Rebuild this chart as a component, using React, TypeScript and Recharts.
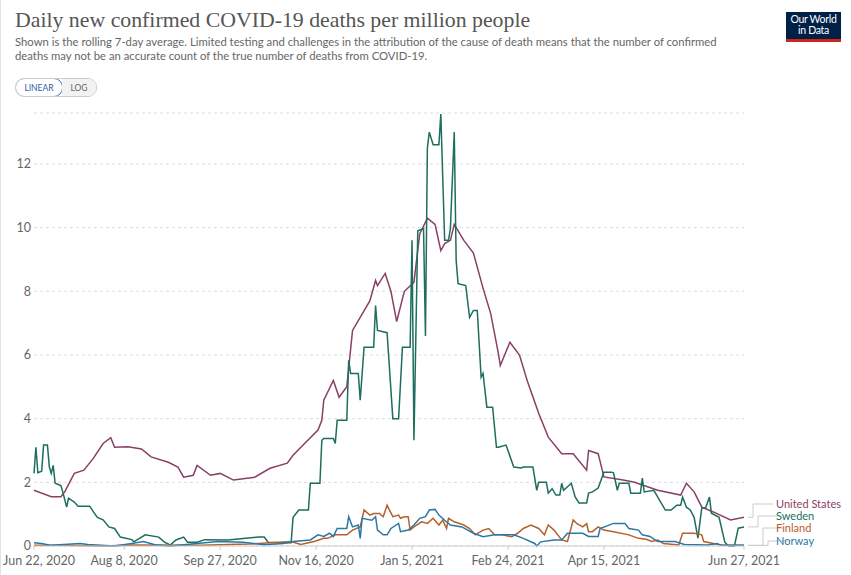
import { LineChart, Line, XAxis, YAxis, CartesianGrid, LabelList } from 'recharts';

document.body.style.margin = '0';

// days since Jun 22, 2020
const tickDays = [0, 47, 97, 147, 197, 247, 297, 370];
const tickLabels = ['Jun 22, 2020', 'Aug 8, 2020', 'Sep 27, 2020', 'Nov 16, 2020', 'Jan 5, 2021', 'Feb 24, 2021', 'Apr 15, 2021', 'Jun 27, 2021'];
const yTicks = [0, 2, 4, 6, 8, 10, 12];

const usDays = [0, 9, 14, 16, 21, 26, 31, 36, 40, 42, 49, 56, 61, 70, 75, 78, 83, 85, 92, 97, 104, 115, 123, 132, 135, 141, 148, 150, 151, 156, 159, 163, 166, 170, 175, 178, 179, 183, 186, 189, 193, 198, 201, 205, 209, 212, 214, 217, 219, 224, 229, 234, 238, 242, 243, 248, 253, 257, 263, 268, 275, 281, 288, 289, 294, 297, 307, 313, 325, 337, 340, 344, 348, 354, 363, 370];
const usDeaths = [1.75, 1.55, 1.55, 1.7, 2.28, 2.38, 2.76, 3.22, 3.4, 3.1, 3.12, 3.05, 2.8, 2.63, 2.48, 2.16, 2.22, 2.53, 2.22, 2.28, 2.07, 2.16, 2.44, 2.6, 2.85, 3.22, 3.64, 3.95, 4.58, 5.2, 4.67, 5.0, 6.77, 7.18, 7.7, 8.34, 8.18, 8.56, 8.0, 7.05, 8.0, 8.28, 9.8, 10.3, 10.1, 9.28, 9.5, 9.6, 10.1, 9.6, 9.2, 8.1, 7.3, 6.05, 5.67, 6.4, 6.0, 5.2, 4.17, 3.42, 2.9, 2.9, 2.38, 3.0, 2.9, 2.17, 2.07, 2.0, 1.75, 1.6, 1.97, 1.7, 1.22, 1.07, 0.82, 0.9];

const swedenDays = [0, 1, 2, 4, 5, 7, 8, 9, 10, 11, 14, 15, 17, 18, 21, 23, 29, 31, 33, 36, 39, 42, 45, 51, 52, 58, 65, 68, 71, 74, 78, 80, 85, 89, 101, 117, 120, 122, 128, 134, 135, 138, 143, 144, 149, 150, 151, 156, 157, 158, 163, 164, 165, 169, 170, 172, 177, 178, 179, 184, 187, 190, 192, 196, 197, 198, 200, 203, 204, 205, 206, 208, 211, 212, 214, 216, 217, 219, 220, 221, 225, 227, 229, 231, 233, 234, 236, 239, 241, 242, 246, 250, 254, 255, 260, 262, 263, 267, 268, 270, 272, 274, 275, 276, 280, 282, 284, 288, 289, 291, 294, 297, 301, 302, 304, 305, 310, 311, 316, 317, 318, 323, 325, 329, 332, 335, 337, 338, 340, 342, 344, 346, 348, 350, 352, 353, 357, 360, 362, 365, 367, 370];
const swedenDeaths = [2.28, 3.1, 2.3, 2.35, 3.17, 3.17, 2.48, 2.28, 2.53, 1.97, 1.9, 1.7, 1.22, 1.5, 1.38, 1.25, 1.25, 1.07, 0.9, 0.82, 0.6, 0.55, 0.28, 0.2, 0.13, 0.35, 0.28, 0.12, 0.03, 0.19, 0.28, 0.12, 0.12, 0.2, 0.19, 0.28, 0.28, 0.12, 0.1, 0.1, 0.9, 1.13, 1.13, 1.97, 1.97, 3.32, 3.38, 3.38, 3.22, 3.95, 3.95, 5.83, 5.42, 5.42, 4.58, 6.24, 6.24, 7.55, 6.77, 6.7, 4.0, 4.0, 6.24, 6.24, 9.6, 3.32, 9.9, 9.97, 6.6, 12.5, 13.0, 12.6, 12.6, 13.57, 9.6, 9.6, 9.97, 13.0, 8.97, 8.24, 8.18, 7.18, 7.4, 7.4, 5.3, 5.42, 4.36, 4.36, 3.1, 3.1, 3.17, 2.48, 2.45, 2.48, 2.48, 1.75, 2.0, 2.0, 1.66, 1.8, 1.6, 1.6, 1.97, 1.75, 1.97, 1.54, 1.35, 1.35, 1.66, 1.7, 1.82, 2.32, 2.32, 2.3, 1.75, 1.97, 1.97, 1.66, 1.66, 2.13, 1.7, 1.75, 1.54, 1.13, 1.13, 1.28, 1.28, 1.54, 1.22, 1.13, 0.9, 0.25, 1.2, 1.2, 1.54, 1.03, 0.9, 0.12, 0, 0, 0.56, 0.6];

const finlandDays = [0, 14, 36, 51, 87, 112, 134, 139, 146, 151, 153, 157, 163, 166, 170, 172, 175, 177, 180, 182, 184, 187, 190, 191, 193, 195, 196, 198, 202, 205, 208, 211, 213, 215, 216, 219, 224, 227, 230, 234, 237, 240, 244, 249, 252, 255, 259, 263, 266, 268, 271, 275, 278, 281, 283, 286, 288, 289, 291, 294, 297, 302, 310, 315, 319, 322, 325, 328, 336, 338, 344, 348, 349, 354, 358, 370];
const finlandDeaths = [0.02, 0.02, 0, 0.03, 0.02, 0.06, 0.14, 0.05, 0.14, 0.24, 0.24, 0.35, 0.35, 0.5, 0.6, 1.13, 0.97, 1.02, 1.02, 0.92, 1.28, 0.92, 0.97, 0.87, 0.92, 0.92, 0.5, 0.6, 0.76, 0.71, 0.87, 0.66, 0.81, 0.55, 0.87, 0.76, 0.66, 0.55, 0.35, 0.5, 0.55, 0.35, 0.35, 0.29, 0.4, 0.55, 0.66, 0.55, 0.35, 0.66, 0.5, 0.19, 0.14, 0.82, 0.7, 0.6, 0.7, 0.45, 0.45, 0.6, 0.5, 0.45, 0.35, 0.24, 0.21, 0.14, 0.19, 0.08, 0.03, 0.4, 0.4, 0.35, 0.14, 0.08, 0.03, 0.02];

const norwayDays = [0, 4, 9, 24, 28, 42, 51, 57, 63, 71, 96, 109, 120, 130, 135, 144, 148, 151, 154, 156, 158, 163, 164, 166, 169, 170, 171, 176, 178, 179, 182, 184, 186, 190, 191, 195, 198, 201, 204, 206, 209, 211, 214, 217, 223, 229, 234, 240, 250, 255, 261, 262, 264, 271, 275, 278, 286, 289, 294, 295, 302, 308, 310, 315, 317, 321, 325, 334, 339, 351, 356, 358, 370];
const norwayDeaths = [0.1, 0.08, 0.02, 0.08, 0.05, 0, 0.08, 0.14, 0.04, 0, 0.14, 0.12, 0.04, 0.08, 0.14, 0.19, 0.35, 0.3, 0.4, 0.3, 0.55, 0.55, 0.92, 0.6, 0.66, 0.24, 0.87, 0.81, 0.92, 0.5, 0.35, 0.35, 0.55, 0.71, 0.45, 0.5, 0.66, 0.87, 0.92, 1.13, 1.15, 0.97, 0.81, 0.66, 0.6, 0.4, 0.29, 0.35, 0.35, 0.24, 0.08, 0, 0.13, 0.19, 0.19, 0.4, 0.4, 0.3, 0.3, 0.55, 0.71, 0.71, 0.55, 0.5, 0.35, 0.3, 0.14, 0.14, 0.05, 0.03, 0.08, 0.02, 0.02];

const toRows = (days: number[], vals: number[]) => days.map((d, i) => ({ day: d, value: vals[i] }));

const series = [
  { name: 'United States', color: '#8a3f66', data: toRows(usDays, usDeaths), elbowX: 752, labelY: 504 },
  { name: 'Sweden', color: '#1d6e5c', data: toRows(swedenDays, swedenDeaths), elbowX: 757, labelY: 516 },
  { name: 'Finland', color: '#b5602d', data: toRows(finlandDays, finlandDeaths), elbowX: 762, labelY: 528 },
  { name: 'Norway', color: '#2a78a6', data: toRows(norwayDays, norwayDeaths), elbowX: 767, labelY: 541 },
];

const font = 'Lato, "Noto Sans", sans-serif';

function EndLabel(props: any, s: (typeof series)[number]) {
  const { x, y, index } = props;
  if (index !== s.data.length - 1) return null;
  return (
    <g>
      <path
        d={`M${x + 4},${y} H${s.elbowX} V${s.labelY} H${s.elbowX + 20}`}
        fill="none"
        stroke="#ccc"
        strokeWidth={1}
      />
      <text x={775} y={s.labelY} dy={4} fontSize={11} fill={s.color} fontFamily={font}>
        {s.name}
      </text>
    </g>
  );
}

function XTick(props: any) {
  const { x, y, payload, index } = props;
  const label = tickLabels[tickDays.indexOf(payload.value)];
  const cx = index === 0 ? Math.max(x, 38) : x;
  return (
    <text x={cx} y={y} dy={13} textAnchor="middle" fontSize={12.5} fill="#666" fontFamily={font}>
      {label}
    </text>
  );
}

export default function App() {
  return (
    <div style={{ position: 'relative', width: 851, height: 575, background: '#fff', fontFamily: font, borderLeft: '1px solid #e4e4e4', boxSizing: 'border-box' }}>
      <div style={{ position: 'absolute', left: 14, top: 8, fontFamily: '"Liberation Serif", "DejaVu Serif", serif', fontSize: 21.8, color: '#555', whiteSpace: 'nowrap' }}>
        Daily new confirmed COVID-19 deaths per million people
      </div>
      <div style={{ position: 'absolute', left: 14, top: 35, fontSize: 11.3, lineHeight: '14px', color: '#666', whiteSpace: 'nowrap' }}>
        Shown is the rolling 7-day average. Limited testing and challenges in the attribution of the cause of death means that the number of confirmed
        <br />
        deaths may not be an accurate count of the true number of deaths from COVID-19.
      </div>
      <div style={{ position: 'absolute', left: 14, top: 78, height: 17, display: 'flex', fontSize: 8.5, borderRadius: 9, overflow: 'hidden', border: '1px solid #ccc' }}>
        <div style={{ width: 46, display: 'flex', alignItems: 'center', justifyContent: 'center', color: '#2a5ea8', border: '1px solid #3b73c4', borderRadius: 9, background: '#fff', margin: -1 }}>
          LINEAR
        </div>
        <div style={{ width: 34, display: 'flex', alignItems: 'center', justifyContent: 'center', color: '#666', background: '#f2f2f2' }}>LOG</div>
      </div>
      <div style={{ position: 'absolute', left: 785, top: 12, width: 55, height: 30, background: '#002147', borderBottom: '3px solid #ce261e', boxSizing: 'border-box', color: '#fff', fontSize: 10.5, lineHeight: '11px', textAlign: 'center', paddingTop: 2, letterSpacing: -0.3 }}>
        Our World
        <br />
        in Data
      </div>
      <div style={{ position: 'absolute', left: 0, top: 0 }}>
        <LineChart width={851} height={575} margin={{ top: 113, right: 108, bottom: 0, left: 0 }}>
          <CartesianGrid horizontal vertical={false} strokeDasharray="3 3" stroke="#ddd" />
          <XAxis
            dataKey="day"
            type="number"
            domain={[0, 370]}
            ticks={tickDays}
            interval={0}
            height={29}
            tick={<XTick />}
            axisLine={{ stroke: '#ccc' }}
            tickLine={{ stroke: '#ccc' }}
            tickSize={4}
            allowDuplicatedCategory={false}
          />
          <YAxis
            type="number"
            domain={[0, 13.6]}
            ticks={yTicks}
            interval={0}
            width={33}
            axisLine={false}
            tickLine={false}
            tickSize={0}
            tickMargin={3}
            tick={{ fontSize: 12.5, fill: '#666', fontFamily: font }}
          />
          {series.map((s) => (
            <Line
              key={s.name}
              data={s.data}
              dataKey="value"
              name={s.name}
              type="linear"
              stroke={s.color}
              strokeWidth={1.5}
              dot={false}
              isAnimationActive={false}
            >
              <LabelList dataKey="value" content={(p: any) => EndLabel(p, s)} />
            </Line>
          ))}
        </LineChart>
      </div>
    </div>
  );
}
